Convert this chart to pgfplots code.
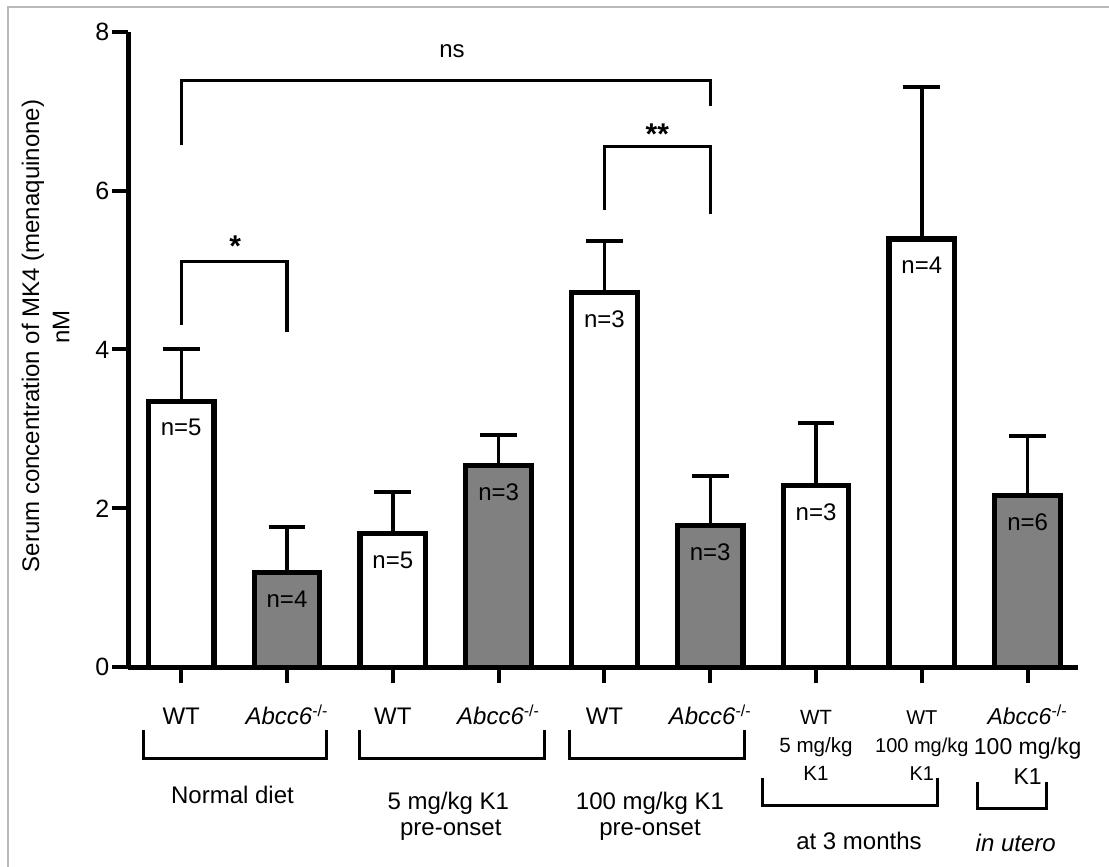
\documentclass[border=0pt]{standalone}
\usepackage{fontspec}
\setmainfont{Liberation Sans}
\usepackage{pgfplots}
\usepackage{pgfplotstable}
\pgfplotsset{compat=1.18}

\pgfplotstableread{
x y err n
0 3.35 0.65 5
2 1.68 0.53 5
4 4.72 0.65 3
6 2.29 0.79 3
7 5.39 1.91 4
}\whitebars
\pgfplotstableread{
x y err n
1 1.19 0.57 4
3 2.54 0.38 3
5 1.78 0.63 3
8 2.16 0.75 6
}\graybars

\newcommand{\ab}{\textit{Abcc6}\textsuperscript{-/-}}

\begin{document}
\begin{tikzpicture}[x=0.5pt,y=0.5pt,font=\fontsize{12}{14.4}\selectfont]
\useasboundingbox (0,0) rectangle (1109,867);
\draw[gray!55, line width=0.6pt] (8,0) -- (8,860) -- (1109,860);
\begin{axis}[
  at={(64.15pt,99.85pt)}, anchor=south west,
  scale only axis, width=474.85pt, height=317.8pt,
  xmin=-0.5, xmax=8.476, ymin=0, ymax=8,
  axis lines*=left,
  axis line style={line width=2.7pt, black},
  ytick={0,2,4,6,8},
  xtick={0,...,8},
  xticklabels={WT, \ab, WT, \ab, WT, \ab,
    {\fontsize{10.3}{12.5}\selectfont\begin{tabular}[t]{@{}c@{}}WT\\[1.5pt]5 mg/kg\\[1.5pt]K1\end{tabular}},
    {\fontsize{10}{12.5}\selectfont\begin{tabular}[t]{@{}c@{}}WT\\[1.5pt]100 mg/kg\\[1.5pt]K1\end{tabular}},
    {\fontsize{11.5}{13.8}\selectfont\begin{tabular}[t]{@{}c@{}}\ab\\[1pt]100 mg/kg\\[1pt]K1\end{tabular}}},
  xticklabel style={anchor=base, yshift=-20.85pt, inner sep=0pt},
  yticklabel style={anchor=east, xshift=2pt, font=\fontsize{12.5}{15}\selectfont},
  tick align=outside,
  major tick length=8pt,
  tick style={line width=2pt, black},
  /pgf/number format/assume math mode=true,
  xticklabel style={font=\fontsize{12}{14.4}\selectfont},
  clip=false,
  ybar, bar width=0.621,
  point meta=explicit symbolic,
  nodes near coords={n=\pgfplotspointmeta},
  every node near coord/.append style={anchor=center, yshift=-13.25pt, text=black, font=\fontsize{12}{14.4}\selectfont},
]
\addplot[bar shift=0pt, fill=white, draw=black, line width=2.6pt,
  error bars/.cd, y dir=plus, y explicit,
  error bar style={line width=1.7pt, black},
  error mark options={rotate=90, mark size=9.2pt, line width=2pt, black}]
  table[x=x, y=y, y error=err, meta=n] {\whitebars};
\addplot[bar shift=0pt, fill=black!50, draw=black, line width=2.6pt,
  error bars/.cd, y dir=plus, y explicit,
  error bar style={line width=1.7pt, black},
  error mark options={rotate=90, mark size=9.2pt, line width=2pt, black}]
  table[x=x, y=y, y error=err, meta=n] {\graybars};

\draw[line width=1.6pt] (axis cs:0,4.31) -- (axis cs:0,5.105) -- (axis cs:1,5.105) -- (axis cs:1,4.22);
\node[font=\fontsize{15}{18}\selectfont\bfseries] at (axis cs:0.51,5.30) {*};
\draw[line width=1.6pt] (axis cs:0,6.57) -- (axis cs:0,7.39) -- (axis cs:5,7.39) -- (axis cs:5,7.06);
\node at (axis cs:2.56,7.75) {ns};
\draw[line width=1.6pt] (axis cs:4,5.75) -- (axis cs:4,6.55) -- (axis cs:5,6.55) -- (axis cs:5,5.71);
\node[font=\fontsize{15}{18}\selectfont\bfseries] at (axis cs:4.5,6.71) {**};
\end{axis}

% y axis label
\node[rotate=90, anchor=center] at (33,531) {Serum concentration of MK4 (menaquinone)};
\node[rotate=90, anchor=center] at (61,540) {nM};

% group brackets
\draw[line width=1.6pt] (143.3,137) -- (143.3,108.7) -- (326.7,108.7) -- (326.7,137);
\draw[line width=1.6pt] (359.3,137) -- (359.3,108.7) -- (544.3,108.7) -- (544.3,137);
\draw[line width=1.6pt] (569.3,137) -- (569.3,108.7) -- (744.3,108.7) -- (744.3,137);
\draw[line width=1.6pt] (762.7,88.7) -- (762.7,61.3) -- (937.7,61.3) -- (937.7,88.7);
\draw[line width=1.6pt] (977.7,85.3) -- (977.7,58.7) -- (1046.7,58.7) -- (1046.7,85.3);

% group labels
\node[anchor=base] at (232.5,63) {Normal diet};
\node[anchor=base] at (448.3,57) {5 mg/kg K1};
\node[anchor=base] at (450.8,31) {pre-onset};
\node[anchor=base] at (650,57) {100 mg/kg K1};
\node[anchor=base] at (650,31) {pre-onset};
\node[anchor=base] at (859,17) {at 3 months};
\node[anchor=base] at (1015.7,15.3) {\textit{in utero}};
\end{tikzpicture}
\end{document}
